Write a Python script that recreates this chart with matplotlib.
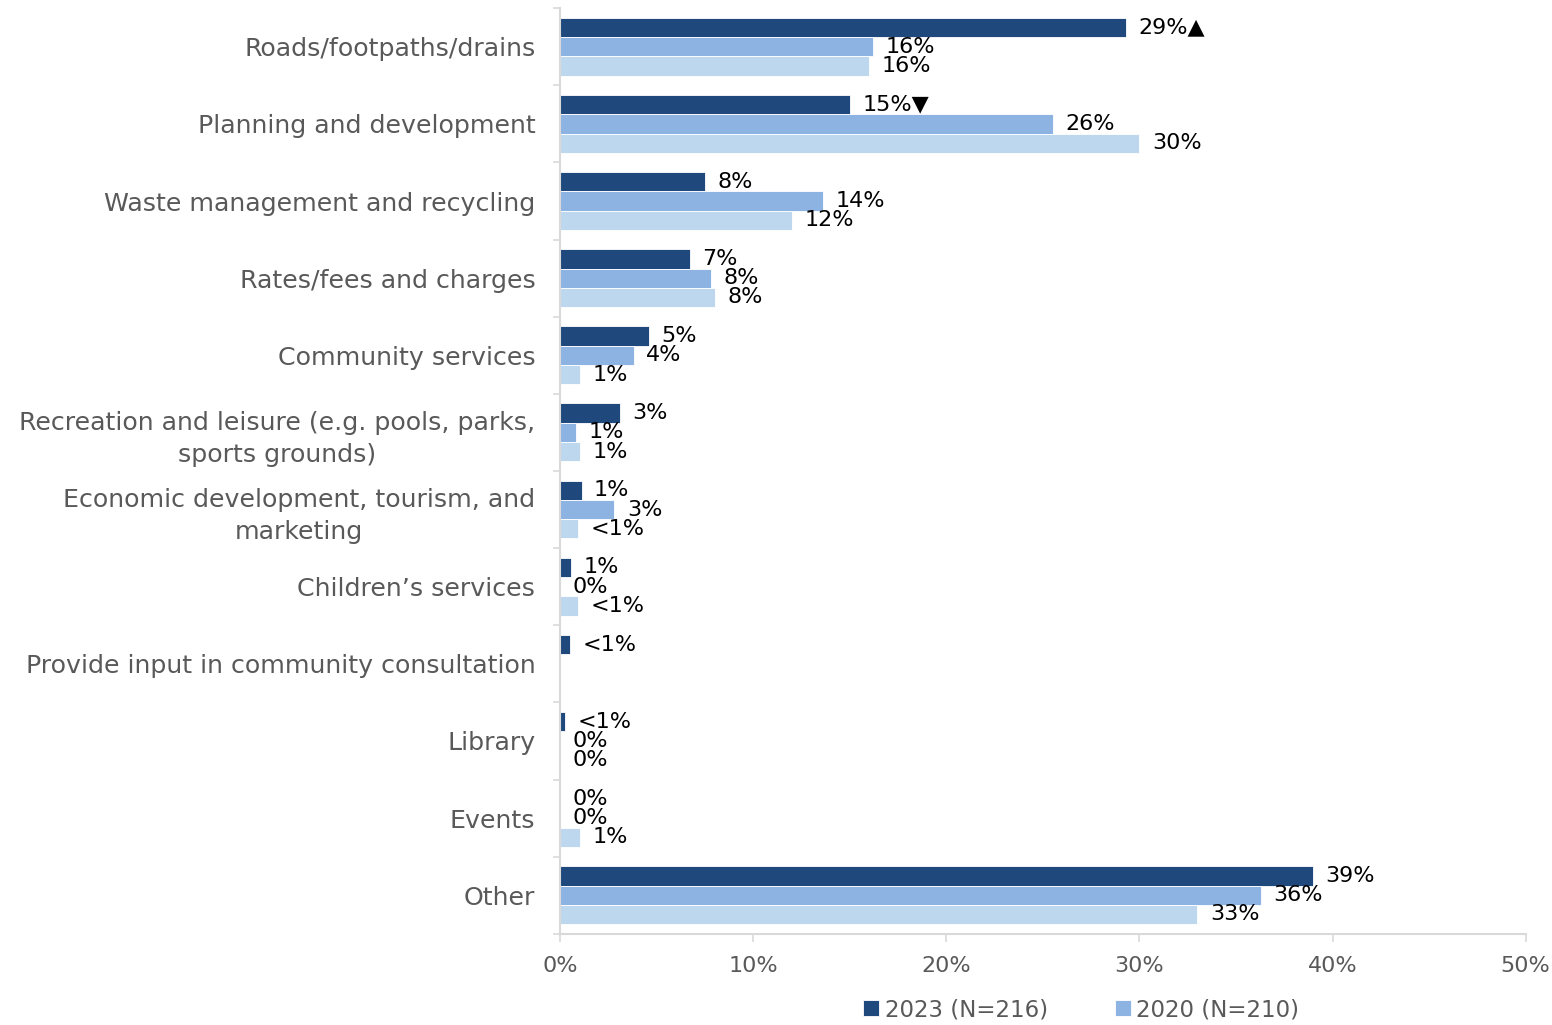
import numpy as np
import matplotlib.pyplot as plt
from matplotlib.ticker import FixedLocator, PercentFormatter

plt.rcParams['font.family'] = ['DejaVu Sans']

# Survey categories, top to bottom
categories = [
    'Roads/footpaths/drains',
    'Planning and development',
    'Waste management and recycling',
    'Rates/fees and charges',
    'Community services',
    'Recreation and leisure (e.g. pools, parks,\nsports grounds)',
    'Economic development, tourism, and\nmarketing',
    'Children\u2019s services',
    'Provide input in community consultation',
    'Library',
    'Events',
    'Other',
]

# Share of respondents (%), nan = not asked
pct_2023 = [29.3, 15.0, 7.5, 6.7, 4.6, 3.1, 1.1, 0.55, 0.5, 0.25, 0.0, 39.0]
pct_2020 = [16.2, 25.5, 13.6, 7.8, 3.8, 0.8, 2.8, 0.0, np.nan, 0.0, 0.0, 36.3]
pct_prev = [16.0, 30.0, 12.0, 8.0, 1.0, 1.0, 0.9, 0.9, np.nan, 0.0, 1.0, 33.0]

labels_2023 = ['29%\u25b2', '15%\u25bc', '8%', '7%', '5%', '3%', '1%', '1%', '<1%', '<1%', '0%', '39%']
labels_2020 = ['16%', '26%', '14%', '8%', '4%', '1%', '3%', '0%', None, '0%', '0%', '36%']
labels_prev = ['16%', '30%', '12%', '8%', '1%', '1%', '<1%', '<1%', None, '0%', '1%', '33%']

series = [
    ('2023 (N=216)', pct_2023, labels_2023, '#1f497d'),
    ('2020 (N=210)', pct_2020, labels_2020, '#8db3e2'),
    (None, pct_prev, labels_prev, '#bdd7ee'),
]

fig = plt.figure(figsize=(15.52, 10.25), dpi=100)
ax = fig.add_axes([0.361, 0.089, 0.622, 0.903])

y = np.arange(len(categories))
h = 0.25
handles = []
for i, (name, vals, labs, col) in enumerate(series):
    pos = y + (i - 1) * h
    v = np.nan_to_num(np.array(vals, dtype=float))
    bars = ax.barh(pos, v, height=h, color=col, edgecolor='white', linewidth=0.6)
    if name:
        handles.append((bars, name))
    for p, val, lab in zip(pos, v, labs):
        if lab is None:
            continue
        ax.annotate(lab, (val, p), xytext=(9, 0), textcoords='offset points',
                    ha='left', va='center', fontsize=16, color='black')

ax.set_ylim(len(categories) - 0.5, -0.5)
ax.set_xlim(0, 50)
ax.set_yticks(y)
ax.set_yticklabels(categories)
for t in ax.get_yticklabels():
    t.set_multialignment('center')
    t.set_linespacing(1.4)
ax.yaxis.set_minor_locator(FixedLocator(np.arange(-0.5, len(categories), 1)))
ax.tick_params(axis='y', which='major', length=0, pad=18, labelsize=18.2, labelcolor='#595959')
ax.tick_params(axis='y', which='minor', length=5, color='#d9d9d9', width=1.2)

ax.set_xticks(np.arange(0, 51, 10))
ax.xaxis.set_major_formatter(PercentFormatter(decimals=0))
ax.tick_params(axis='x', length=6, color='#d9d9d9', width=1.2, pad=10,
               labelsize=16, labelcolor='#595959')

for s in ['top', 'right']:
    ax.spines[s].set_visible(False)
for s in ['left', 'bottom']:
    ax.spines[s].set_color('#d9d9d9')
    ax.spines[s].set_linewidth(1.5)

fig.legend([b for b, _ in handles], [n for _, n in handles],
           loc='center left', bbox_to_anchor=(0.543, 0.015), ncol=2, frameon=False,
           fontsize=16.5, labelcolor='#595959', handlelength=0.7, handleheight=0.7,
           handletextpad=0.25, columnspacing=2.9)

fig.savefig('out.png', dpi=100)
